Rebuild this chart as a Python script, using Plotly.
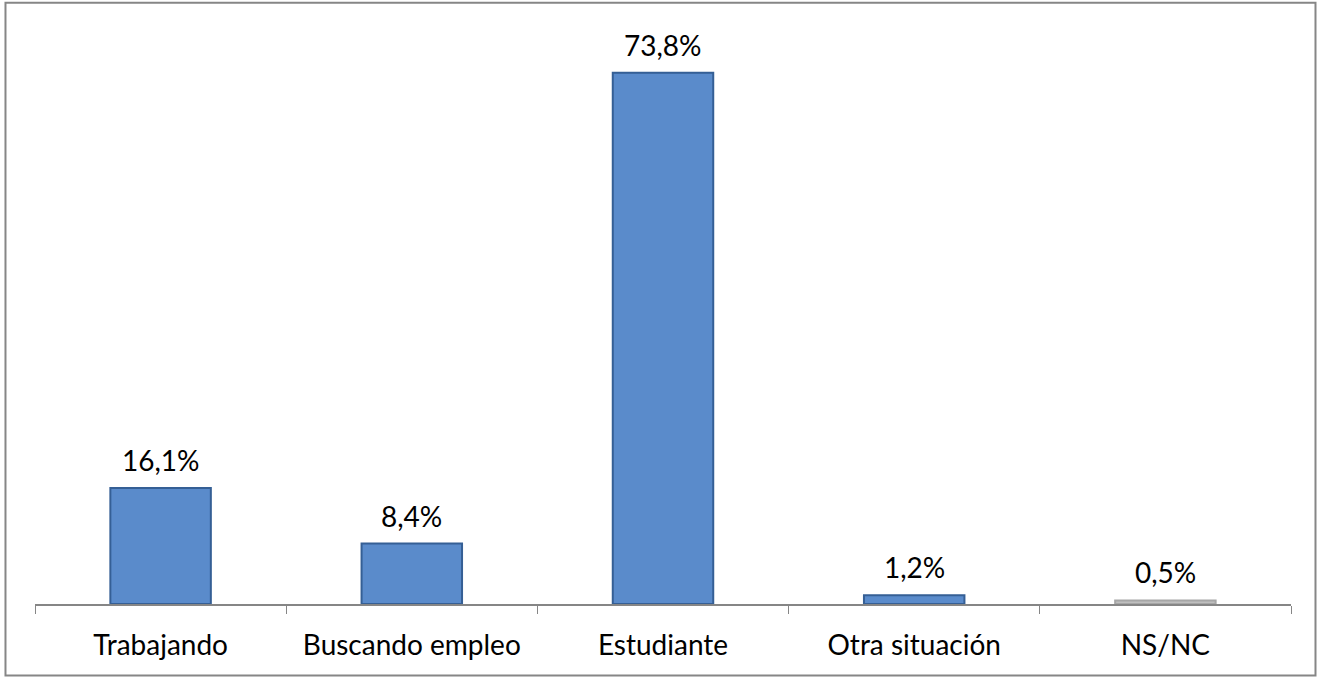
import plotly.graph_objects as go

categories = ["Trabajando", "Buscando empleo", "Estudiante", "Otra situación", "NS/NC"]
values = [16.1, 8.4, 73.8, 1.2, 0.5]
labels = ["16,1%", "8,4%", "73,8%", "1,2%", "0,5%"]
colors = ["#5A8BCB", "#5A8BCB", "#5A8BCB", "#5A8BCB", "#BFBFBF"]
edges = ["#355F95", "#355F95", "#355F95", "#355F95", "#A6A6A6"]

FONT = "Lato"
FS = 28

fig = go.Figure()
fig.add_trace(go.Bar(
    x=categories, y=values,
    marker=dict(color=colors, line=dict(color=edges, width=2)),
    width=0.4,
    hoverinfo="skip",
))
for c, v, t in zip(categories, values, labels):
    fig.add_annotation(x=c, y=v, text=t, showarrow=False, yanchor="bottom", yshift=9,
                       font=dict(family=FONT, size=FS, color="#000000"))

fig.update_layout(
    width=1320, height=678,
    margin=dict(l=35, r=29, t=28, b=74),
    paper_bgcolor="white", plot_bgcolor="white",
    showlegend=False,
    font=dict(family=FONT, size=FS, color="#000000"),
    xaxis=dict(showline=True, linecolor="#868686", linewidth=1.5, automargin=False,
               ticks="outside", tickson="boundaries", ticklen=8, tickcolor="#868686",
               tickfont=dict(family=FONT, size=FS, color="#000000"),
               ticklabelstandoff=16, showgrid=False),
    yaxis=dict(range=[0, 80], visible=False, showgrid=False, automargin=False),
    shapes=[dict(type="rect", xref="paper", yref="paper",
                 x0=-0.0235, x1=1.0195, y0=-0.124, y1=1.044,
                 line=dict(color="#868686", width=2), layer="below")],
)
fig.write_html("out.html", config={"displayModeBar": False},
               post_script="document.body.style.margin='0';")
